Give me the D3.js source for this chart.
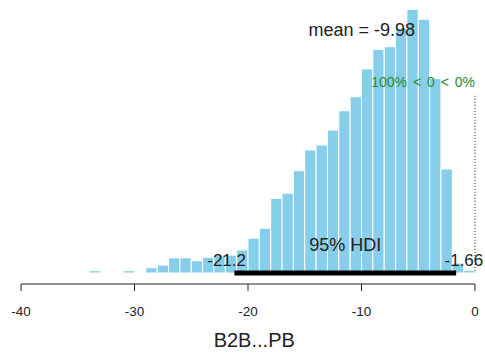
<!DOCTYPE html>
<html>
<head>
<meta charset="utf-8">
<script src="https://cdn.jsdelivr.net/npm/d3@7"></script>
<style>
  body { margin: 0; background: #fff; }
  svg { display: block; font-family: "Liberation Sans", Arial, sans-serif; }
</style>
</head>
<body>
<div id="chart"></div>
<script>
// posterior histogram, bins of width 1
const binStart = [-34, -33, -32, -31, -30, -29, -28, -27, -26, -25, -24, -23, -22, -21, -20, -19, -18,
                  -17, -16, -15, -14, -13, -12, -11, -10, -9, -8, -7, -6, -5, -4, -3, -2, -1];
const density = [0.0008, 0.0002, 0, 0.0008, 0.0003, 0.0018, 0.0027, 0.0052, 0.0052, 0.0042, 0.0054, 0.0061, 0.0061, 0.0079, 0.0119, 0.0153, 0.0255,
                 0.0273, 0.0350, 0.0421, 0.0438, 0.0489, 0.0555, 0.0603, 0.0698, 0.0765, 0.0774, 0.0838, 0.0902, 0.0868, 0.0665, 0.0356, 0.0034, 0.0009];
const binWidth = 1;

const xTicks = [-40, -30, -20, -10, 0];
const xLabel = "B2B...PB";
const meanVal = -9.98;
const hdi = [-21.2, -1.66];
const credMass = 95;
const compVal = 0;
const pcLt = 100, pcGt = 0;

const W = 485, H = 355;
const baseY = 273;

const svg = d3.select("#chart").append("svg")
  .attr("width", W)
  .attr("height", H);

const x = d3.scaleLinear()
  .domain([-40, 0])
  .range([21, 475]);

const maxD = d3.max(density);
const y = d3.scaleLinear()
  .domain([0, maxD])
  .range([baseY, 9.3]);

// bars
svg.append("g").selectAll("rect")
  .data(binStart)
  .enter()
  .append("rect")
  .attr("x", d => x(d))
  .attr("y", (d, i) => y(density[i]))
  .attr("width", d => x(d + binWidth) - x(d))
  .attr("height", (d, i) => y(0) - y(density[i]))
  .attr("fill", "#87CEEB")
  .attr("stroke", "#fff")
  .attr("stroke-width", 1);

// x axis, R style: line only between first and last tick
const axis = svg.append("g").attr("transform", "translate(0,284)");
axis.append("line")
  .attr("x1", x(xTicks[0])).attr("x2", x(xTicks[xTicks.length - 1]))
  .attr("stroke", "#222").attr("stroke-width", 1);
axis.selectAll(".tick")
  .data(xTicks)
  .enter()
  .append("line")
  .attr("x1", d => x(d)).attr("x2", d => x(d))
  .attr("y1", 0).attr("y2", 7)
  .attr("stroke", "#222");
axis.selectAll(".lbl")
  .data(xTicks)
  .enter()
  .append("text")
  .attr("x", d => x(d))
  .attr("y", 32)
  .attr("text-anchor", "middle")
  .attr("font-size", 13.5)
  .attr("fill", "#222")
  .text(d => String(d));

svg.append("text")
  .attr("x", x(-19.45))
  .attr("y", 347)
  .attr("text-anchor", "middle")
  .attr("font-size", 20)
  .attr("fill", "#222")
  .text(xLabel);

// mean
svg.append("text")
  .attr("x", x(meanVal))
  .attr("y", y(0.9 * maxD))
  .attr("text-anchor", "middle")
  .attr("font-size", 18)
  .attr("fill", "#222")
  .text("mean = " + meanVal);

// comparison value
const cvHt = 0.7 * maxD;
svg.append("line")
  .attr("x1", x(compVal)).attr("x2", x(compVal))
  .attr("y1", y(0.96 * cvHt)).attr("y2", y(0))
  .attr("stroke", "#1f4f1f")
  .attr("stroke-width", 1)
  .attr("stroke-dasharray", "1.2,1.8");
svg.append("text")
  .attr("x", x(compVal))
  .attr("y", y(cvHt) - 1)
  .attr("text-anchor", "end")
  .attr("font-size", 14)
  .attr("word-spacing", 2)
  .attr("fill", "#2e8b2e")
  .text(pcLt + "% < " + compVal + " < " + pcGt + "%");

// HDI
svg.append("line")
  .attr("x1", x(hdi[0])).attr("x2", x(hdi[1]))
  .attr("y1", y(0)).attr("y2", y(0))
  .attr("stroke", "#000")
  .attr("stroke-width", 5);

svg.append("text")
  .attr("x", x((hdi[0] + hdi[1]) / 2))
  .attr("y", y(0) - 22)
  .attr("text-anchor", "middle")
  .attr("font-size", 18)
  .attr("fill", "#222")
  .text(credMass + "% HDI");

// HDI end labels, anchored at 70% / 30% of their width like R's adj
hdi.forEach((v, i) => {
  const t = svg.append("text")
    .attr("y", y(0) - 7)
    .attr("font-size", 17)
    .attr("fill", "#222")
    .text(String(v));
  const w = t.node().getComputedTextLength();
  const adj = i === 0 ? 0.7 : 0.3;
  t.attr("x", x(v) - adj * w);
});
</script>
</body>
</html>
